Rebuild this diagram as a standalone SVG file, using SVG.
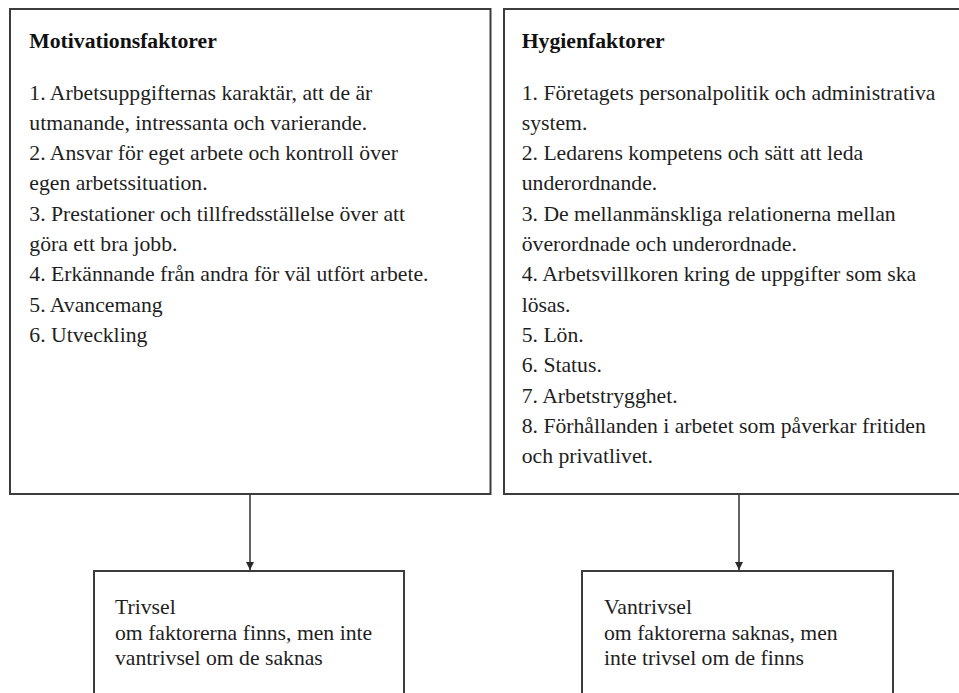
<svg xmlns="http://www.w3.org/2000/svg" width="959" height="693" viewBox="0 0 959 693">
<defs>
<style>
.box{fill:#ffffff;stroke:#3c3c3c;stroke-width:2}
.t{font-family:"Liberation Serif","Times New Roman",serif;font-size:21.7px;fill:#1e1e1e}
.h{font-family:"Liberation Serif","Times New Roman",serif;font-size:21.7px;font-weight:bold;fill:#111}
.edge{stroke:#3c3c3c;stroke-width:1.6;fill:none}
</style>
<marker id="arr" viewBox="0 0 10 10" refX="10" refY="5" markerWidth="5" markerHeight="5" orient="auto" markerUnits="strokeWidth">
<path d="M0,0 L10,5 L0,10 z" fill="#2a2a2a"/>
</marker>
</defs>
<rect width="959" height="693" fill="#ffffff"/>
<g id="connectors">
<line class="edge" x1="250" y1="495" x2="250" y2="570" marker-end="url(#arr)"/>
<line class="edge" x1="739" y1="495" x2="739" y2="570" marker-end="url(#arr)"/>
</g>
<g id="motivationsfaktorer">
<rect class="box" x="10" y="9" width="480.5" height="485"/>
<text class="h" x="29.3" y="48">Motivationsfaktorer</text>
<text class="t" x="29.3" y="99.5">1. Arbetsuppgifternas karaktär, att de är</text>
<text class="t" x="29.3" y="129.8">utmanande, intressanta och varierande.</text>
<text class="t" x="29.3" y="160.1">2. Ansvar för eget arbete och kontroll över</text>
<text class="t" x="29.3" y="190.4">egen arbetssituation.</text>
<text class="t" x="29.3" y="220.7">3. Prestationer och tillfredsställelse över att</text>
<text class="t" x="29.3" y="251">göra ett bra jobb.</text>
<text class="t" x="29.3" y="281.3">4. Erkännande från andra för väl utfört arbete.</text>
<text class="t" x="29.3" y="311.6">5. Avancemang</text>
<text class="t" x="29.3" y="341.9">6. Utveckling</text>
</g>
<g id="hygienfaktorer">
<rect class="box" x="504" y="9" width="470" height="485"/>
<text class="h" x="521.7" y="48">Hygienfaktorer</text>
<text class="t" x="521.7" y="99.5">1. Företagets personalpolitik och administrativa</text>
<text class="t" x="521.7" y="129.8">system.</text>
<text class="t" x="521.7" y="160.1">2. Ledarens kompetens och sätt att leda</text>
<text class="t" x="521.7" y="190.4">underordnande.</text>
<text class="t" x="521.7" y="220.7">3. De mellanmänskliga relationerna mellan</text>
<text class="t" x="521.7" y="251">överordnade och underordnade.</text>
<text class="t" x="521.7" y="281.3">4. Arbetsvillkoren kring de uppgifter som ska</text>
<text class="t" x="521.7" y="311.6">lösas.</text>
<text class="t" x="521.7" y="341.9">5. Lön.</text>
<text class="t" x="521.7" y="372.2">6. Status.</text>
<text class="t" x="521.7" y="402.5">7. Arbetstrygghet.</text>
<text class="t" x="521.7" y="432.8">8. Förhållanden i arbetet som påverkar fritiden</text>
<text class="t" x="521.7" y="463.1">och privatlivet.</text>
</g>
<g id="trivsel">
<rect class="box" x="94" y="571" width="310" height="140"/>
<text class="t" x="115" y="614">Trivsel</text>
<text class="t" x="115" y="639.5">om faktorerna finns, men inte</text>
<text class="t" x="115" y="665">vantrivsel om de saknas</text>
</g>
<g id="vantrivsel">
<rect class="box" x="582" y="571" width="311" height="140"/>
<text class="t" x="604" y="614">Vantrivsel</text>
<text class="t" x="604" y="639.5">om faktorerna saknas, men</text>
<text class="t" x="604" y="665">inte trivsel om de finns</text>
</g>
</svg>
